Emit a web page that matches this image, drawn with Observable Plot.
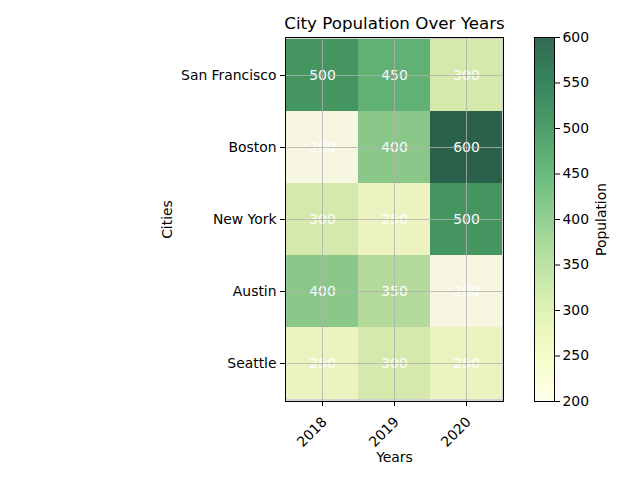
<!DOCTYPE html>
<html>
<head>
<meta charset="utf-8">
<script src="https://cdn.jsdelivr.net/npm/d3@7"></script>
<script src="https://cdn.jsdelivr.net/npm/@observablehq/plot@0.6"></script>
<style>
  html, body { margin: 0; padding: 0; background: white; }
  #wrap { position: relative; width: 640px; height: 480px; }
  #wrap svg { position: absolute; left: 0; top: 0; }
</style>
</head>
<body>
<div id="wrap"></div>
<script>
const years = ["2018", "2019", "2020"];
const cities = ["San Francisco", "Boston", "New York", "Austin", "Seattle"];
const values = [
  [500, 450, 300],
  [200, 400, 600],
  [300, 250, 500],
  [400, 350, 200],
  [250, 300, 250]
];
const colorTicks = [200, 250, 300, 350, 400, 450, 500, 550, 600];

const data = [];
cities.forEach((c, i) => years.forEach((y, j) => data.push({city: c, year: y, value: values[i][j]})));

const font = "DejaVu Sans, sans-serif";
const color = {type: "linear", domain: [200, 600], interpolate: d3.interpolateYlGn};

const main = Plot.plot({
  width: 640, height: 480,
  marginLeft: 285, marginRight: 137, marginTop: 37, marginBottom: 79,
  style: {fontFamily: font, fontSize: "13.9px", color: "black", background: "white"},
  x: {domain: years, padding: 0},
  y: {domain: cities, padding: 0},
  color,
  marks: [
    Plot.frame({fill: "#d2d2d2", stroke: null}),
    Plot.cell(data, {x: "year", y: "city", fill: "value", fillOpacity: 0.8, inset: 0}),
    Plot.text(data, {x: "year", y: "city", text: d => String(d.value), fill: "white", fontSize: 13.9}),
    Plot.gridX(years, {stroke: "#b0b0b0", strokeOpacity: 1, strokeWidth: 0.8}),
    Plot.gridY(cities, {stroke: "#b0b0b0", strokeOpacity: 1, strokeWidth: 0.8}),
    Plot.frame({stroke: "black", strokeWidth: 1}),
    Plot.axisX({tickSize: 5, text: null, label: null}),
    Plot.axisX({tickSize: 0, tickPadding: 18, dx: 2, tickRotate: -45, label: null, fontSize: 13.9}),
    Plot.axisY({tickSize: 5, tickPadding: 4, label: null, fontSize: 13.9}),
    Plot.text(["Years"], {frameAnchor: "bottom", lineAnchor: "middle", textAnchor: "middle", dy: 56, fontSize: 13.9}),
    Plot.text(["Cities"], {frameAnchor: "left", textAnchor: "middle", lineAnchor: "middle", dx: -118, rotate: -90, fontSize: 13.9}),
    Plot.text(["City Population Over Years"], {frameAnchor: "top", lineAnchor: "middle", textAnchor: "middle", dy: -14, fontSize: 16.7})
  ]
});

const bar = Plot.plot({
  width: 640, height: 480,
  marginLeft: 534, marginRight: 86, marginTop: 37, marginBottom: 79,
  style: {fontFamily: font, fontSize: "13.9px", color: "black", background: "transparent"},
  x: {domain: [0, 1], axis: null},
  y: {domain: [200, 600], axis: null},
  color,
  marks: [
    Plot.raster({fill: (x, y) => y, x1: 0, x2: 1, y1: 200, y2: 600, width: 1, height: 364, fillOpacity: 0.8, imageRendering: "auto"}),
    Plot.frame({stroke: "black", strokeWidth: 1}),
    Plot.axisY({anchor: "right", ticks: colorTicks, tickSize: 5, tickPadding: 3, label: null, fontSize: 13.9}),
    Plot.text(["Population"], {frameAnchor: "right", textAnchor: "middle", lineAnchor: "middle", dx: 47, rotate: -90, fontSize: 13.9})
  ]
});

const wrap = document.getElementById("wrap");
wrap.appendChild(main);
wrap.appendChild(bar);
</script>
</body>
</html>
